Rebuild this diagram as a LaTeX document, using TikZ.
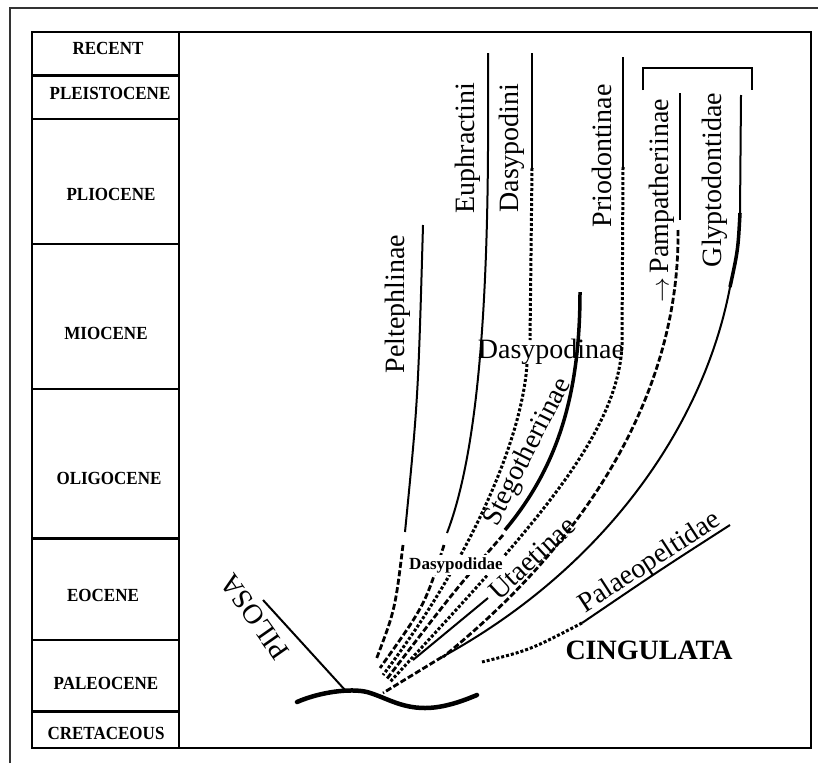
\documentclass[tikz,border=0pt]{standalone}
\usepackage{fontspec}
\setmainfont{Liberation Serif}
\begin{document}
\begin{tikzpicture}[x=1pt, y=-1pt,
    thinbr/.style={line width=2pt},
    thickbr/.style={line width=3.5pt},
    dotbr/.style={line width=3pt, dash pattern=on 3pt off 2pt},
    dashbr/.style={line width=2.8pt, dash pattern=on 6pt off 2.5pt},
    epoch/.style={font=\bfseries\fontsize{18.5}{18.5}\selectfont, xscale=0.92},
    taxon/.style={font=\fontsize{28}{28}\selectfont, inner sep=0pt},
    group/.style={font=\bfseries\fontsize{28}{28}\selectfont}]
    \useasboundingbox (0,0) rectangle (818,763);
    % Frames
    \draw[line width=1.5pt, black!80] (10,763) -- (10,8) -- (818,8);
    \draw[line width=2pt] (32,32) rectangle (811,748);
    \draw[line width=2.5pt] (179,32) -- (179,748);
    % Time scale
    \foreach \y in {75.5,119,244,389,538.5,640,711.5}
        \draw[line width=2.5pt] (32,\y) -- (179,\y);
    \foreach \name/\lbl/\x/\y in {recent/RECENT/108/48, pleisto/PLEISTOCENE/110/93,
        plio/PLIOCENE/111/194, mio/MIOCENE/106/333, oligo/OLIGOCENE/109/478,
        eo/EOCENE/103/595, paleo/PALEOCENE/106/683, creta/CRETACEOUS/106/733}
        \node[epoch] (\name) at (\x,\y) {\lbl};
    % Root
    \draw[line width=4.5pt, line cap=round] (297,702) .. controls (320,692) and (350,688) .. (367,692)
        .. controls (385,697) and (400,708) .. (425,708) .. controls (445,708) and (465,700) .. (477,695);
    \draw[thinbr] (263,600) -- (345,690);
    % Peltephlinae
    \draw[thinbr] (423,225) .. controls (418,400) .. (405,532);
    \draw[dashbr] (403,545) .. controls (395,610) .. (376,660);
    % Euphractini
    \draw[thinbr] (488,53) -- (488,150) .. controls (487,330) and (475,460) .. (447,533);
    \draw[dashbr] (444,545) .. controls (425,605) .. (380,668);
    % Dasypodini
    \draw[thinbr] (532,53) -- (532,168);
    \draw[dotbr] (532,168) -- (530,340);
    \draw[dotbr] (527,364) .. controls (522,440) and (470,560) .. (383,675);
    % Stegotheriinae
    \draw[thickbr] (580,292) .. controls (580,400) and (555,470) .. (505,530);
    \draw[dashbr] (503,535) .. controls (455,590) .. (386,680);
    % Priodontinae
    \draw[thinbr] (623,57) -- (623,167);
    \draw[dotbr] (623,167) -- (622,345) .. controls (618,440) and (520,540) .. (390,682);
    % Pampatheriinae
    \draw[thinbr] (680,93) -- (680,220);
    \draw[dashbr] (678,230) .. controls (680,380) and (600,530) .. (443,657);
    % Glyptodontidae
    \draw[thinbr] (741,95) -- (740,213);
    \draw[thickbr] (740,213) .. controls (738,250) .. (730,287);
    \draw[thinbr] (730,287) .. controls (705,420) and (610,565) .. (442,657);
    \draw[line width=2.2pt] (643,90) -- (643,68) -- (752,68) -- (752,90);
    % Utaetinae and stem
    \draw[thinbr] (488,598) -- (413,660);
    \draw[dashbr] (442,657) -- (383,693);
    % Palaeopeltidae
    \draw[thinbr] (730,525) .. controls (660,570) .. (582,623);
    \draw[dotbr] (582,623) .. controls (530,650) .. (482,662);
    % Labels
    \node[taxon, rotate=90] (pelt) at (398,304) {Peltephlinae};
    \node[taxon, rotate=90] (euph) at (468,148) {Euphractini};
    \node[taxon, rotate=90] (dasyni) at (512,148) {Dasypodini};
    \node[taxon, rotate=90] (prio) at (602,156) {Priodontinae};
    \node[taxon, rotate=90] (pamp) at (662,201) {$\rightarrow$\,Pampatheriinae};
    \node[taxon, rotate=90] (glyp) at (715,180) {Glyptodontidae};
    \node[taxon] (dasynae) at (551,352) {Dasypodinae};
    \node[taxon, rotate=63] (steg) at (528,452) {Stegotheriinae};
    \node[taxon, rotate=43] (utae) at (532,558) {Utaetinae};
    \node[taxon, rotate=33] (palae) at (650,563) {Palaeopeltidae};
    \node[fill=white, inner sep=2pt, font=\bfseries\fontsize{17}{17}\selectfont] (dasyidae) at (456,565) {Dasypodidae};
    \node[group] (cing) at (649,650) {CINGULATA};
    \node[taxon, rotate=125] (pilosa) at (255,617) {PILOSA};
\end{tikzpicture}
\end{document}
